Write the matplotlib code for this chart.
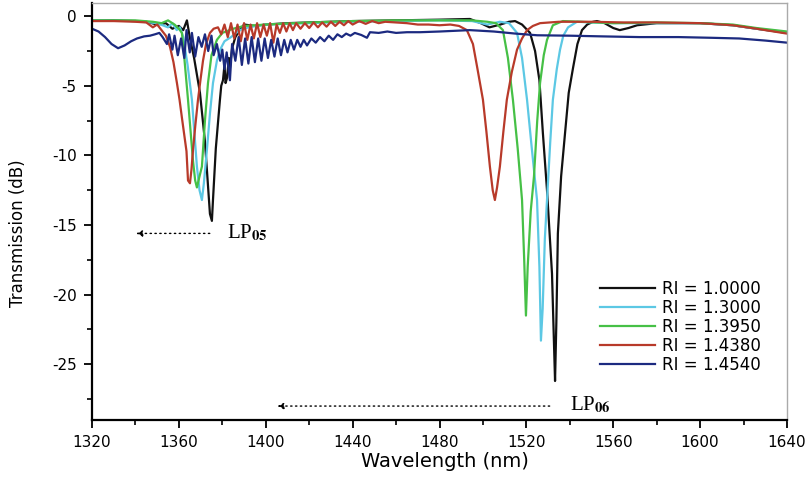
import matplotlib
matplotlib.use("Agg")
import matplotlib.pyplot as plt
from matplotlib.ticker import MultipleLocator

plt.rcParams["axes.unicode_minus"] = False
plt.rcParams["mathtext.fontset"] = "stix"

# transmission spectra, (wavelength nm, dB)
bk_wl = [1320, 1330, 1340, 1345, 1350, 1354, 1357, 1360, 1362, 1363.7, 1365, 1367, 1369.7, 1372,
         1374.3, 1375.2, 1375.7, 1377, 1378.9, 1379.5, 1380.3, 1381, 1381.5, 1382.2, 1383, 1383.5,
         1384.5, 1386, 1388, 1390, 1395, 1400, 1410, 1420, 1440, 1460, 1480, 1494, 1499, 1503, 1508,
         1512, 1514.8, 1518, 1521.7, 1524, 1526, 1527.6, 1529.5, 1531.8, 1532.8, 1533.2, 1533.8,
         1534.5, 1536, 1537.8, 1539.5, 1541.5, 1543.5, 1545.6, 1548, 1550.7, 1552.5, 1556, 1560,
         1563, 1567, 1571, 1580, 1600, 1615, 1626, 1640]
bk_db = [-0.3, -0.3, -0.35, -0.4, -0.6, -0.5, -0.9, -0.7, -1.0, -0.3, -1.5, -3.0, -5.5, -9.0,
         -14.2, -14.7, -13.2, -9.5, -6.0, -5.0, -4.6, -3.5, -4.8, -4.4, -3.0, -3.7,
         -2.3, -1.5, -1.0, -0.6, -0.7, -0.6, -0.5, -0.45, -0.35, -0.3, -0.25, -0.2, -0.5, -0.8, -0.6,
         -0.4, -0.35, -0.6, -1.2, -2.5, -4.6, -8.4, -12.5, -18.5, -24.0, -26.2, -22.0,
         -15.6, -11.5, -8.4, -5.5, -3.7, -2.0, -1.0, -0.6, -0.4, -0.35, -0.5, -0.85,
         -1.0, -0.85, -0.65, -0.5, -0.5, -0.65, -0.9, -1.2]

cy_wl = [1320, 1340, 1350, 1355, 1357, 1359, 1360.5, 1362, 1364, 1366, 1368.3, 1369.5, 1370.6,
         1371.5, 1372.9, 1374.3, 1375.7, 1377.5, 1379, 1381, 1384, 1388, 1392, 1400, 1420, 1440,
         1460, 1480, 1495, 1502, 1507.8, 1512, 1515.7, 1518, 1520.3, 1522.5, 1524.9, 1526, 1526.7,
         1527.5, 1528.5, 1529.5, 1531, 1532.2, 1534, 1535.5, 1537, 1539.2, 1543.3, 1550, 1560, 1580,
         1600, 1615, 1626, 1640]
cy_db = [-0.3, -0.35, -0.5, -0.8, -0.5, -1.0, -0.8, -1.5, -3.5, -6.0, -10.8, -12.5, -13.2,
         -12.0, -9.6, -7.0, -4.8, -3.2, -2.4, -1.8, -1.5, -1.0, -0.8, -0.6, -0.5, -0.4,
         -0.35, -0.3, -0.35, -0.6, -0.4, -0.5, -1.2, -3.0, -6.0, -9.5, -13.2, -18.0, -23.3,
         -21.0, -16.0, -13.2, -9.0, -6.0, -3.8, -2.4, -1.4, -0.8, -0.4, -0.45, -0.5, -0.5,
         -0.5, -0.65, -0.9, -1.15]

gr_wl = [1320, 1340, 1348, 1352, 1355, 1358, 1360, 1361.4, 1362.5, 1364.2, 1366.5, 1367.5, 1368.3,
         1369.5, 1370.6, 1372, 1373.4, 1375, 1377.5, 1380, 1385, 1390, 1400, 1420, 1440, 1460, 1480,
         1495, 1502, 1506, 1509.2, 1511.5, 1513.8, 1516, 1518, 1519, 1519.8, 1520.6, 1522, 1523.5,
         1525, 1526.3, 1528, 1529.5, 1532.2, 1536.8, 1545, 1560, 1580, 1600, 1615, 1626, 1640]
gr_db = [-0.3, -0.3, -0.4, -0.5, -0.3, -0.6, -0.9, -1.2, -3.0, -6.0, -10.4, -11.8, -12.3,
         -11.5, -10.8, -7.5, -4.8, -2.8, -1.7, -1.2, -0.9, -0.7, -0.6, -0.45, -0.35, -0.3, -0.3,
         -0.3, -0.4, -0.5, -1.0, -3.0, -6.0, -9.5, -13.2, -17.5, -21.5, -18.0, -14.0, -11.5,
         -7.5, -4.8, -2.8, -1.7, -0.65, -0.35, -0.4, -0.5, -0.45, -0.5, -0.6, -0.85, -1.1]

rd_wl = [1320, 1330, 1340, 1345, 1348, 1350, 1352, 1354, 1355.9, 1357.5, 1359.1, 1360.3, 1361.4,
         1362.8, 1363.5, 1364.2, 1365.1, 1365.8, 1366.5, 1367.6, 1368.8, 1370, 1371.1, 1372.5,
         1374.3, 1376, 1378, 1379.5, 1381, 1382.5, 1384, 1385.5, 1387, 1388.5, 1390, 1391.5, 1393,
         1394.5, 1396, 1397.5, 1399, 1400.5, 1402, 1403.5, 1405, 1406.5, 1408, 1409.5, 1411, 1412.5,
         1414, 1416, 1418, 1420, 1422, 1424, 1426, 1428, 1430, 1432, 1434, 1436, 1438, 1440, 1443,
         1446, 1449, 1452, 1455, 1460, 1465, 1470, 1475, 1480, 1485, 1489, 1492.6, 1495.4, 1497.5,
         1500, 1501.6, 1503.2, 1504.5, 1505.5, 1506.5, 1507.8, 1509.4, 1511, 1513.3, 1515.7, 1518,
         1520.3, 1523, 1526.3, 1535, 1550, 1565, 1580, 1600, 1615, 1626, 1640]
rd_db = [-0.35, -0.35, -0.4, -0.45, -0.8, -0.6, -1.0, -1.4, -2.2, -3.3, -4.8, -6.0, -7.3,
         -8.9, -9.7, -11.8, -12.0, -11.0, -9.6, -7.8, -6.0, -4.5, -3.2, -2.0,
         -1.2, -0.9, -0.8, -1.3, -0.6, -1.5, -0.5, -1.6, -0.6, -1.8, -0.5, -1.7, -0.6,
         -1.6, -0.5, -1.5, -0.6, -1.4, -0.5, -1.9, -0.6, -1.2, -0.5, -1.1, -0.5, -1.0,
         -0.5, -0.9, -0.5, -0.85, -0.45, -0.8, -0.45, -0.75, -0.4, -0.7, -0.4, -0.65, -0.35, -0.6, -0.35,
         -0.55, -0.35, -0.5, -0.4, -0.45, -0.5, -0.6, -0.6, -0.65, -0.6, -0.7, -1.0, -2.0, -3.8,
         -6.0, -8.3, -10.8, -12.5, -13.2, -12.3, -10.8, -8.3, -6.0, -4.0, -2.4, -1.6,
         -1.0, -0.7, -0.5, -0.4, -0.4, -0.45, -0.45, -0.5, -0.65, -0.9, -1.25]

bl_wl = [1320, 1323, 1326, 1329, 1332, 1335, 1338, 1340.7, 1344, 1346.7, 1349, 1351, 1352.5,
         1354.5, 1355.5, 1357, 1358, 1359.5, 1361, 1362.5, 1363.5, 1365, 1366, 1367.5, 1369, 1370.5,
         1372, 1373.5, 1375, 1376, 1377.5, 1379, 1380, 1381, 1382, 1383.5, 1384.5, 1386, 1387.5,
         1389, 1390.5, 1392, 1393.5, 1395, 1396.5, 1398, 1399.5, 1401, 1402.5, 1404, 1405.5, 1407,
         1408.5, 1410, 1411.5, 1413, 1414.5, 1416, 1417.5, 1419, 1421, 1423, 1425, 1427, 1429, 1431,
         1433, 1435, 1437, 1439, 1441, 1444, 1446.6, 1448, 1452, 1456, 1460, 1465, 1471, 1480, 1494,
         1505, 1515, 1525, 1540, 1555, 1572, 1590, 1605, 1618, 1630, 1640]
bl_db = [-0.9, -1.1, -1.5, -2.0, -2.3, -2.1, -1.8, -1.6, -1.45, -1.4, -1.3, -1.2, -1.5,
         -2.0, -1.3, -2.4, -1.4, -2.8, -1.6, -3.0, -1.0, -2.6, -1.2, -2.9, -1.5, -2.2,
         -1.3, -2.5, -1.4, -2.8, -2.0, -3.2, -2.4, -3.8, -2.6, -4.6, -2.0, -3.2, -1.5,
         -3.5, -1.6, -3.4, -1.5, -3.3, -1.6, -3.2, -1.6, -3.0, -1.7, -2.9, -1.6, -2.8,
         -1.7, -2.6, -1.7, -2.4, -1.7, -2.2, -1.7, -2.1, -1.6, -1.9, -1.5, -1.8, -1.4, -1.7,
         -1.3, -1.5, -1.25, -1.4, -1.2, -1.35, -1.55, -1.15, -1.2, -1.1, -1.2, -1.15, -1.15, -1.1, -1.0,
         -1.1, -1.25, -1.37, -1.4, -1.45, -1.5, -1.5, -1.55, -1.6, -1.75, -1.9]

labels = ["RI = 1.0000", "RI = 1.3000", "RI = 1.3950", "RI = 1.4380", "RI = 1.4540"]
colors = ["#111111", "#5cc8e4", "#46c046", "#b83a2a", "#1c2a80"]

fig = plt.figure(figsize=(8.10, 4.79), dpi=100)
ax = fig.add_axes([0.1136, 0.1232, 0.8580, 0.8706])

series = [(bk_wl, bk_db), (cy_wl, cy_db), (gr_wl, gr_db), (rd_wl, rd_db), (bl_wl, bl_db)]
for (wl, db), lab, c in zip(series, labels, colors):
    ax.plot(wl, db, color=c, lw=1.6, label=lab)

ax.set_xlim(1320, 1640)
ax.set_ylim(-29, 0.95)
ax.xaxis.set_major_locator(MultipleLocator(40))
ax.xaxis.set_minor_locator(MultipleLocator(20))
ax.yaxis.set_major_locator(MultipleLocator(5))
ax.yaxis.set_minor_locator(MultipleLocator(2.5))
ax.tick_params(which="major", direction="out", length=6, width=1.3, labelsize=11, pad=5)
ax.tick_params(which="minor", direction="out", length=3.5, width=1.2)

for s in ["left", "bottom"]:
    ax.spines[s].set_linewidth(1.6)
    ax.spines[s].set_color("black")
for s in ["top", "right"]:
    ax.spines[s].set_linewidth(1.0)
    ax.spines[s].set_color("#aaaaaa")

ax.set_xlabel("Wavelength (nm)", fontsize=14)
ax.set_ylabel("Transmission (dB)", fontsize=12)
ax.xaxis.set_label_coords(0.508, -0.077)
ax.yaxis.set_label_coords(-0.094, 0.448)

ax.legend(loc="upper left", bbox_to_anchor=(0.731, 0.335), frameon=False, fontsize=12,
          handlelength=3.3, handletextpad=0.4, labelspacing=0.05, borderpad=0, borderaxespad=0)

# mode annotations
arrow = dict(arrowstyle="-|>", linestyle=(0, (1, 2.5)), color="black", lw=1.0, mutation_scale=9)
ax.annotate("", xy=(1339, -15.6), xytext=(1375.5, -15.6), arrowprops=arrow)
ax.text(1382, -15.6, r"LP$_{\mathbf{05}}$", family="Liberation Serif", fontsize=15, va="center")
ax.annotate("", xy=(1404, -28.0), xytext=(1532, -28.0), arrowprops=arrow)
ax.text(1540, -27.9, r"LP$_{\mathbf{06}}$", family="Liberation Serif", fontsize=15, va="center")

fig.savefig("out.png", dpi=100)
